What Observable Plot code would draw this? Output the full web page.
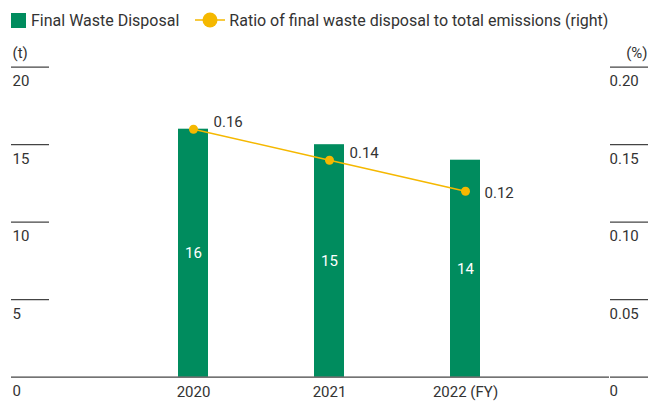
<!DOCTYPE html>
<html>
<head>
<meta charset="utf-8">
<script src="https://cdn.jsdelivr.net/npm/d3@7"></script>
<script src="https://cdn.jsdelivr.net/npm/@observablehq/plot@0.6"></script>
<style>
  html, body { margin: 0; padding: 0; background: #fff; }
  body { width: 648px; height: 401px; overflow: hidden; font-family: Roboto, "Noto Sans", sans-serif; color: #333; }
  #legend { height: 36px; display: flex; align-items: center; padding-left: 11px; font-size: 16px; box-sizing: border-box; padding-top: 4px; }
  #legend .sw { width: 15px; height: 15px; margin-right: 5px; }
  #legend .item { display: flex; align-items: center; }
  #legend svg { margin: 0 4px 0 16px; }
</style>
</head>
<body>
<div id="legend"></div>
<div id="chart"></div>
<script>
const years = ["2020", "2021", "2022 (FY)"];
const waste = [16, 15, 14];
const ratio = [0.16, 0.14, 0.12];
const leftTicks = [0, 5, 10, 15, 20];
const leftTickLabels = ["0", "5", "10", "15", "20"];
const rightTickLabels = ["0", "0.05", "0.10", "0.15", "0.20"];
const seriesNames = ["Final Waste Disposal", "Ratio of final waste disposal to total emissions (right)"];
const units = ["(t)", "(%)"];

const green = "#008c5e";
const yellow = "#f5b800";

const data = years.map((y, i) => ({year: y, value: waste[i], ratio: ratio[i], idx: i}));
const tickData = leftTicks.map((t, i) => ({t, left: leftTickLabels[i], right: rightTickLabels[i]}));

// legend
const lg = document.getElementById("legend");
lg.innerHTML = `
  <div class="item"><div class="sw" style="background:${green}"></div><span>${seriesNames[0]}</span></div>
  <div class="item"><svg width="30" height="16"><line x1="0" x2="30" y1="8" y2="8" stroke="${yellow}" stroke-width="1.5"/><circle cx="15" cy="8" r="7.5" fill="${yellow}"/></svg><span>${seriesNames[1]}</span></div>`;

const W = 648, H = 365;
const chart = Plot.plot({
  width: W,
  height: H,
  marginTop: 30.7,
  marginBottom: 24.3,
  marginLeft: 49,
  marginRight: 39,
  style: {fontFamily: "Roboto, sans-serif", fontSize: "15px", color: "#333", background: "#fff"},
  x: {type: "band", domain: years, range: [177.25, 480.75], paddingInner: 0.7766, paddingOuter: 0, align: 0.5},
  y: {domain: [0, 20]},
  marks: [
    Plot.axisY({anchor: "left", ticks: leftTicks, tickSize: 38, tickFormat: () => "", label: null, strokeWidth: 1.2, stroke: "#444"}),
    Plot.axisY({anchor: "right", ticks: leftTicks, tickSize: 38, tickFormat: () => "", label: null, strokeWidth: 1.2, stroke: "#444"}),
    Plot.text(tickData, {y: "t", text: "left", frameAnchor: "left", textAnchor: "start", dx: -37, dy: 14, fill: "#333", fontSize: 15}),
    Plot.text(tickData, {y: "t", text: "right", frameAnchor: "right", textAnchor: "start", dx: 0, dy: 14, fill: "#333", fontSize: 15}),
    Plot.axisX({tickSize: 0, tickPadding: 9, label: null, fontSize: 15}),
    Plot.barY(data, {x: "year", y: "value", fill: green}),
    Plot.ruleY([0], {stroke: "#444", strokeWidth: 1.2}),
    Plot.text(data, {x: "year", y: d => d.value / 2, text: d => String(d.value), fill: "#fff", fontSize: 15}),
    Plot.line(data, {x: "year", y: d => d.ratio * 100, stroke: yellow, strokeWidth: 1.5}),
    Plot.dot(data, {x: "year", y: d => d.ratio * 100, r: 4.5, fill: yellow}),
    Plot.text(data.filter(d => d.idx < 2), {x: "year", y: d => d.ratio * 100, text: d => d.ratio.toFixed(2), textAnchor: "start", dx: 20, dy: -7, fill: "#333", fontSize: 15}),
    Plot.text(data.filter(d => d.idx === 2), {x: "year", y: d => d.ratio * 100, text: d => d.ratio.toFixed(2), textAnchor: "start", dx: 19, dy: 2, fill: "#333", fontSize: 15}),
    Plot.text([units[0]], {frameAnchor: "top-left", text: d => d, textAnchor: "start", dx: -37, dy: -20, fill: "#333", fontSize: 15}),
    Plot.text([units[1]], {frameAnchor: "top-right", text: d => d, textAnchor: "end", dx: 38, dy: -20, fill: "#333", fontSize: 15})
  ]
});
document.getElementById("chart").appendChild(chart);
</script>
</body>
</html>
